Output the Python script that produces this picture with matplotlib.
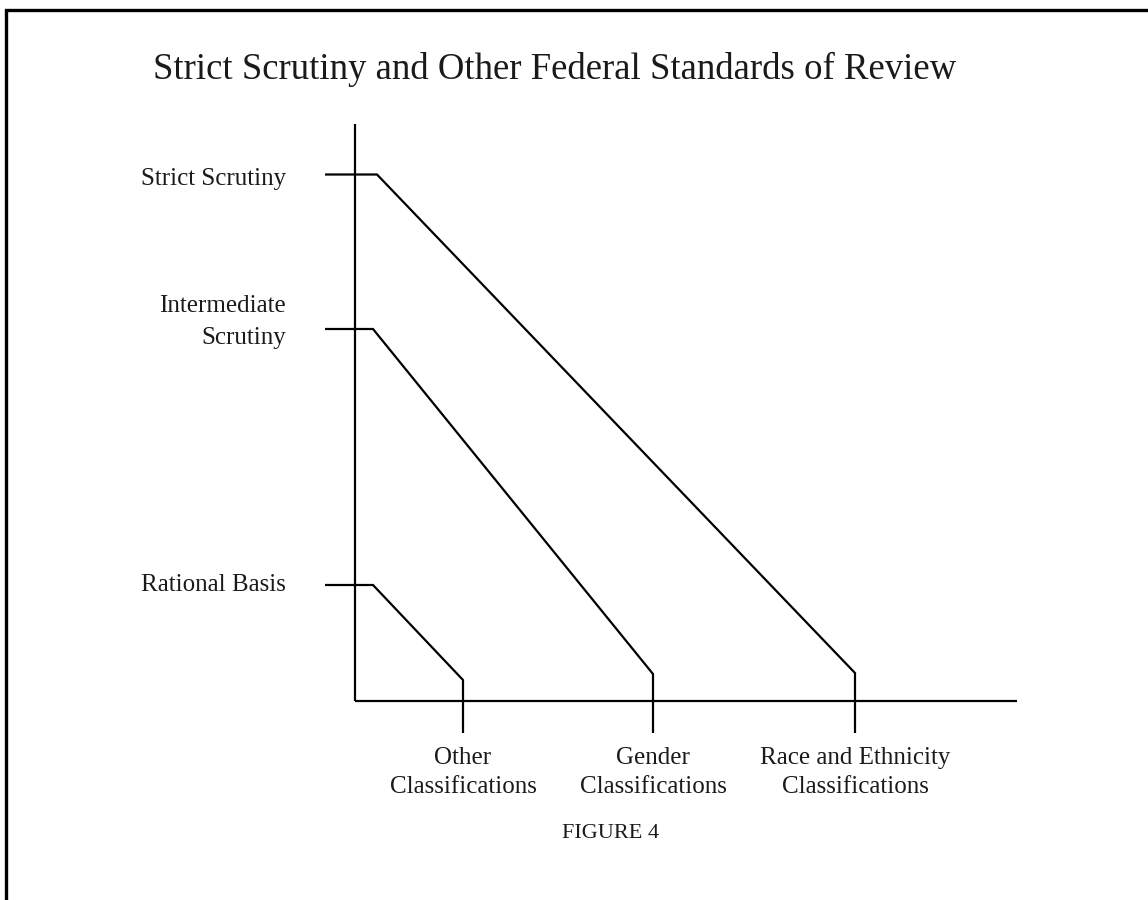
import matplotlib
matplotlib.use("Agg")
import matplotlib.pyplot as plt

plt.rcParams['font.family'] = ['Liberation Serif', 'DejaVu Serif']

# standards of review (y axis) and classifications (x axis)
standards = ['Rational Basis', 'Intermediate\nScrutiny', 'Strict Scrutiny']
levels = [1.16, 3.72, 5.265]
classes = ['Other\nClassifications', 'Gender\nClassifications',
           'Race and Ethnicity\nClassifications']
class_pos = [1.08, 2.98, 5.0]
elbow_x = [0.18, 0.18, 0.22]    # where the level line turns down
floor_y = [0.21, 0.27, 0.28]    # where the diagonal meets the class tick

fig = plt.figure(figsize=(11.48, 9), dpi=100)
ax = fig.add_axes([0, 0, 1, 1])
# one data unit = 100 px, origin at the corner of the two axes
ax.set_xlim(-3.55, 11.48 - 3.55)
ax.set_ylim(-1.99, 9 - 1.99)
ax.axis('off')

lw = 1.6
# frame (left and top edges only)
ax.plot([-3.49, -3.49, 8.0], [-2.0, 6.915, 6.915], color='black', lw=2.4,
        solid_capstyle='butt', solid_joinstyle='miter')

# axes
ax.plot([0, 0], [0, 5.77], color='black', lw=lw, solid_capstyle='butt')
ax.plot([0, 6.62], [0, 0], color='black', lw=lw, solid_capstyle='butt')

for lev, ex, cx, fy in zip(levels, elbow_x, class_pos, floor_y):
    ax.plot([-0.30, ex, cx, cx], [lev, lev, fy, -0.32], color='black', lw=lw,
            solid_joinstyle='miter', solid_capstyle='butt')

label_dy = [0.0, 0.07, -0.04]
for s, lev, dy in zip(standards, levels, label_dy):
    ax.text(-0.69, lev + dy, s, ha='right', va='center', multialignment='right',
            fontsize=18, linespacing=1.55, color='#1a1a1a')

for c, cx in zip(classes, class_pos):
    ax.text(cx, -0.46, c, ha='center', va='top', fontsize=18, linespacing=1.42,
            color='#1a1a1a')

ax.text(1.995, 6.32, 'Strict Scrutiny and Other Federal Standards of Review',
        ha='center', va='center', fontsize=26.5, color='#1a1a1a')
ax.text(2.56, -1.32, 'FIGURE 4', ha='center', va='center', fontsize=16,
        color='#1a1a1a')

fig.savefig('out.png', dpi=100)
